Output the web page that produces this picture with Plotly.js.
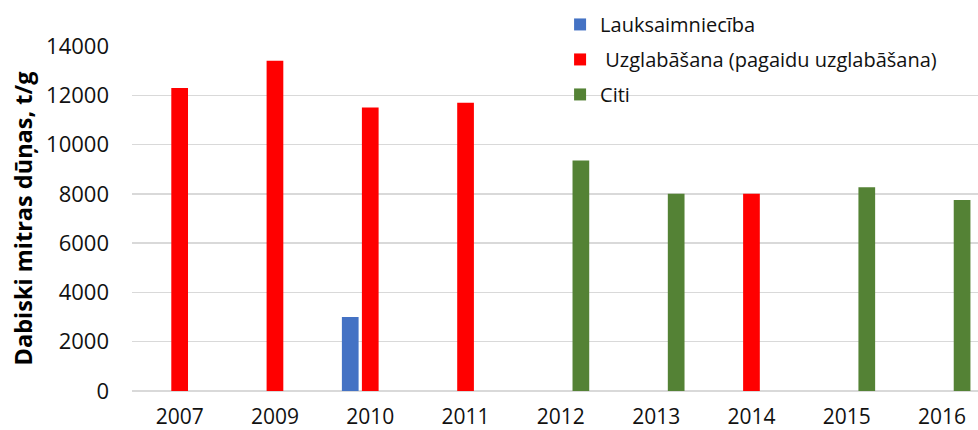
<!DOCTYPE html>
<html>
<head>
<meta charset="utf-8">
<script src="https://cdn.plot.ly/plotly-3.0.1.min.js"></script>
<style>
  html, body { margin: 0; padding: 0; background: #fff; }
  #chart { width: 978px; height: 430px; }
</style>
</head>
<body>
<div id="chart"></div>
<script>
// Gadi (kategorijas)
const years = ['2007', '2009', '2010', '2011', '2012', '2013', '2014', '2015', '2016'];

// Dūņu apjomi, t/g
const lauksaimnieciba = [null, null, 3000, null, null, null, null, null, null];
const uzglabasana = [12300, 13400, 11500, 11700, null, null, 8000, null, null];
const citi = [null, null, null, null, 9350, 8000, null, 8270, 7750];

const yTicks = [0, 2000, 4000, 6000, 8000, 10000, 12000, 14000];

const font = 'Open Sans, Liberation Sans, sans-serif';
const textColor = '#111';

const traces = [
    { name: 'Lauksaimniecība', y: lauksaimnieciba, color: '#4472C4', group: 'a' },
    { name: ' Uzglabāšana (pagaidu uzglabāšana)', y: uzglabasana, color: '#FF0000', group: 'b' },
    { name: 'Citi', y: citi, color: '#548235', group: 'c' }
].map(s => ({
    type: 'bar',
    x: years,
    y: s.y,
    name: s.name,
    legendgroup: s.group,
    marker: { color: s.color, line: { width: 0 } },
    hoverinfo: 'x+y+name'
}));

const layout = {
    width: 978,
    height: 430,
    margin: { l: 132, r: 0, t: 46, b: 39 },
    paper_bgcolor: '#fff',
    plot_bgcolor: '#fff',
    barmode: 'group',
    bargap: 0.37,
    bargroupgap: 0.165,
    font: { family: font, size: 22, color: textColor },
    showlegend: true,
    legend: {
        orientation: 'v',
        x: 0.506, xanchor: 'left',
        y: 1.119, yanchor: 'top',
        bgcolor: 'rgba(0,0,0,0)',
        font: { family: font, size: 20, color: textColor },
        tracegroupgap: 6,
        traceorder: 'grouped'
    },
    xaxis: {
        type: 'category',
        range: [-0.5, 8.377],
        showgrid: false,
        showline: false,
        zeroline: false,
        ticks: '',
        ticklabelstandoff: 11,
        tickfont: { family: font, size: 21, color: textColor }
    },
    yaxis: {
        range: [0, 14000],
        tickvals: yTicks,
        ticktext: yTicks.map(String),
        showgrid: true,
        gridcolor: '#d9d9d9',
        gridwidth: 1.5,
        zeroline: true,
        zerolinecolor: '#d9d9d9',
        zerolinewidth: 1.5,
        showline: false,
        ticks: '',
        ticklabelstandoff: 22,
        tickfont: { family: font, size: 22, color: textColor },
        title: {
            text: '<b>Dabiski mitras dūņas, t/g</b>',
            font: { family: font, size: 23.5, color: '#000' },
            standoff: 6
        }
    }
};

Plotly.newPlot('chart', traces, layout, { displayModeBar: false, staticPlot: true });
</script>
</body>
</html>
